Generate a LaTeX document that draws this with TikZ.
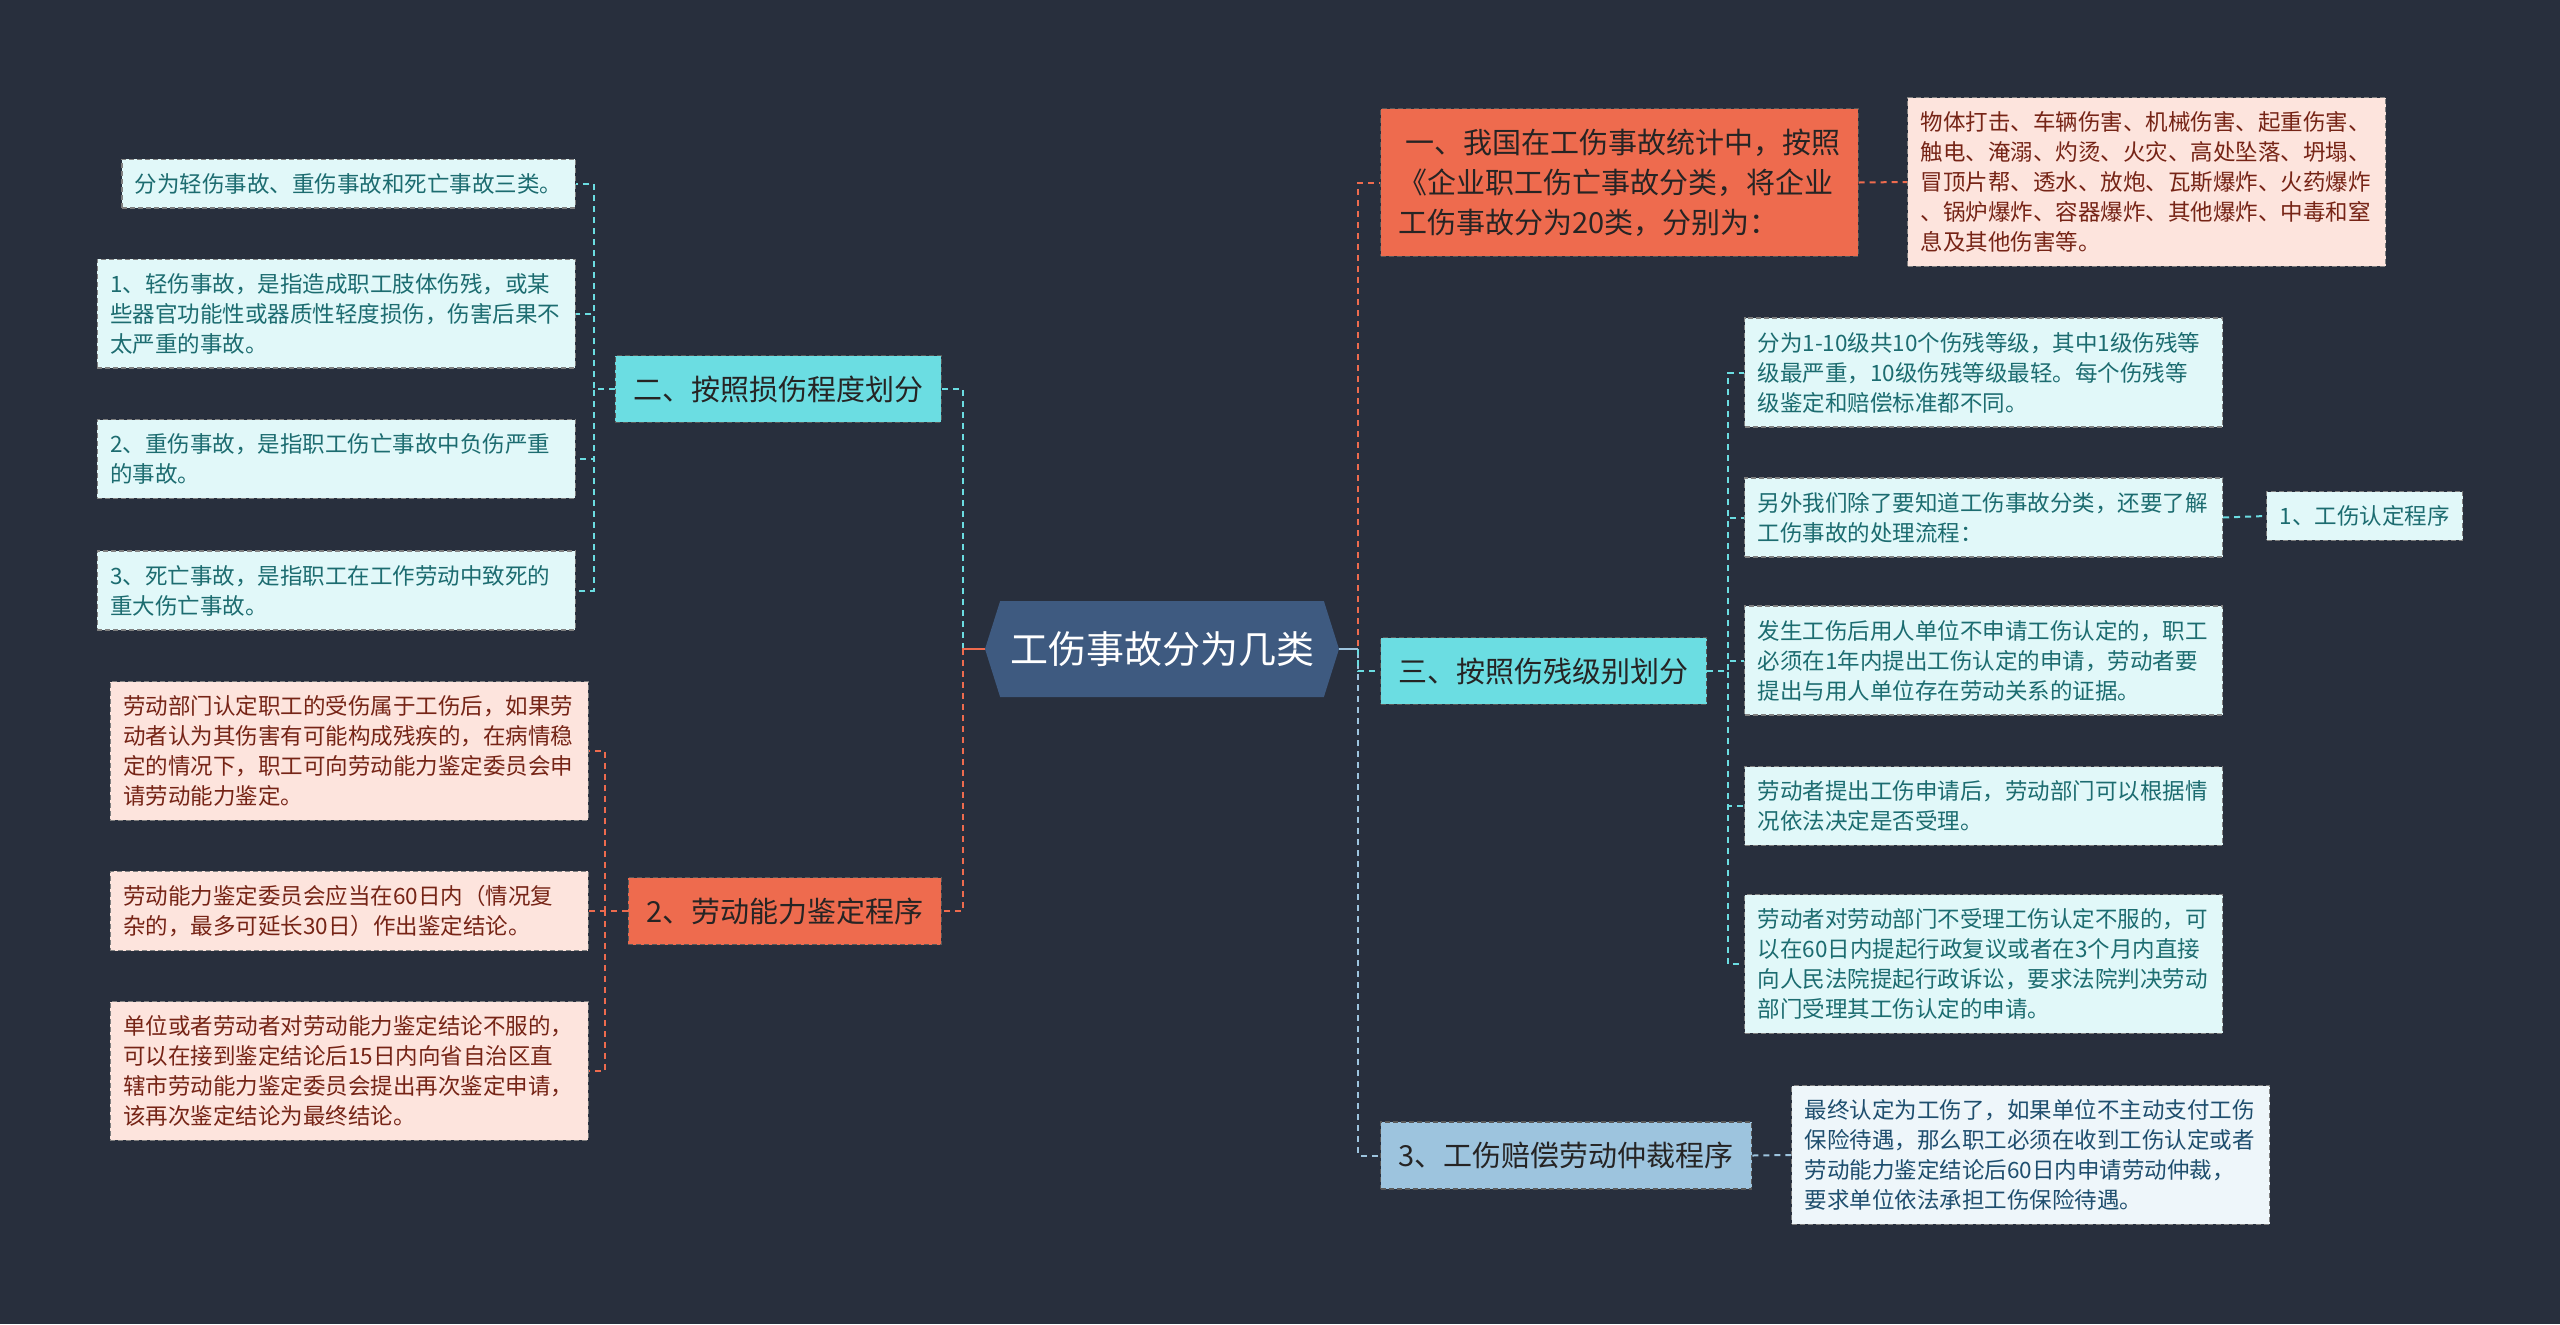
\documentclass[tikz,border=0pt]{standalone}
\usepackage{fontspec}
\setmainfont{Noto Sans CJK SC}
\usetikzlibrary{shapes.symbols}
\definecolor{bgc}{RGB}{40,47,61}
\definecolor{rootc}{RGB}{62,90,128}
\definecolor{orangec}{RGB}{238,107,78}
\definecolor{orangelt}{RGB}{253,228,221}
\definecolor{orangetxt}{RGB}{118,36,22}
\definecolor{cyanc}{RGB}{107,221,226}
\definecolor{cyanlt}{RGB}{225,248,249}
\definecolor{cyantxt}{RGB}{28,108,112}
\definecolor{bluec}{RGB}{157,196,222}
\definecolor{bluelt}{RGB}{238,246,250}
\definecolor{bluetxt}{RGB}{30,78,110}
\definecolor{maintxt}{RGB}{38,36,36}
\begin{document}
\begin{tikzpicture}[x=0.5pt, y=-0.5pt,
  rootnode/.style={signal, signal to=west and east, signal pointer angle=145, fill=rootc, text=white,
    minimum width=177pt, minimum height=48pt, inner sep=0pt, font=\fontsize{19pt}{22pt}\selectfont},
  mainbox/.style={draw=black!65, dash pattern=on 2.5pt off 1.5pt, line width=0.6pt, inner xsep=9pt, inner ysep=10pt,
    align=left, text=maintxt, font=\fontsize{14.5pt}{20pt}\selectfont},
  leafbox/.style={draw=black!50, dash pattern=on 2.5pt off 1.5pt, line width=0.6pt, inner xsep=6.5pt, inner ysep=7pt,
    align=left, text width=226pt, font=\fontsize{11.25pt}{15pt}\selectfont},
  cyanleaf/.style={leafbox, fill=cyanlt, text=cyantxt},
  orangeleaf/.style={leafbox, fill=orangelt, text=orangetxt},
  blueleaf/.style={leafbox, fill=bluelt, text=bluetxt},
  conn/.style={dash pattern=on 3pt off 2.5pt, line width=1pt}]
  \fill[bgc] (0,0) rectangle (2560,1324);
  \useasboundingbox (0,0) rectangle (2560,1324);

  \node[rootnode] (root) at (1162,649) {工伤事故分为几类};

  \node[mainbox, fill=orangec, anchor=west] (m1) at (1380,182.5) {\ 一、我国在工伤事故统计中，按照\\《企业职工伤亡事故分类，将企业\\工伤事故分为20类，分别为：};
  \node[mainbox, fill=cyanc, anchor=east] (m2) at (942,389) {二、按照损伤程度划分};
  \node[mainbox, fill=cyanc, anchor=west] (m3) at (1380,671) {三、按照伤残级别划分};
  \node[mainbox, fill=orangec, anchor=east] (m4) at (942,911) {2、劳动能力鉴定程序};
  \node[mainbox, fill=bluec, anchor=west] (m5) at (1380,1155.5) {3、工伤赔偿劳动仲裁程序};

  \node[orangeleaf, anchor=west] (e1) at (1907,182) {物体打击、车辆伤害、机械伤害、起重伤害、\\触电、淹溺、灼烫、火灾、高处坠落、坍塌、\\冒顶片帮、透水、放炮、瓦斯爆炸、火药爆炸\\、锅炉爆炸、容器爆炸、其他爆炸、中毒和窒\\息及其他伤害等。};

  \node[cyanleaf, anchor=east, text width=213.75pt] (a1) at (576,183.5) {分为轻伤事故、重伤事故和死亡事故三类。};
  \node[cyanleaf, anchor=east] (a2) at (576,313.5) {1、轻伤事故，是指造成职工肢体伤残，或某\\些器官功能性或器质性轻度损伤，伤害后果不\\太严重的事故。};
  \node[cyanleaf, anchor=east] (a3) at (576,459) {2、重伤事故，是指职工伤亡事故中负伤严重\\的事故。};
  \node[cyanleaf, anchor=east] (a4) at (576,590.5) {3、死亡事故，是指职工在工作劳动中致死的\\重大伤亡事故。};

  \node[cyanleaf, anchor=west] (l1) at (1744,372.5) {分为1-10级共10个伤残等级，其中1级伤残等\\级最严重，10级伤残等级最轻。每个伤残等\\级鉴定和赔偿标准都不同。};
  \node[cyanleaf, anchor=west] (l2) at (1744,517.5) {另外我们除了要知道工伤事故分类，还要了解\\工伤事故的处理流程：};
  \node[cyanleaf, anchor=west, text width=] (l2c) at (2266,516) {1、工伤认定程序};
  \node[cyanleaf, anchor=west] (l3) at (1744,660.5) {发生工伤后用人单位不申请工伤认定的，职工\\必须在1年内提出工伤认定的申请，劳动者要\\提出与用人单位存在劳动关系的证据。};
  \node[cyanleaf, anchor=west] (l4) at (1744,806) {劳动者提出工伤申请后，劳动部门可以根据情\\况依法决定是否受理。};
  \node[cyanleaf, anchor=west] (l5) at (1744,964) {劳动者对劳动部门不受理工伤认定不服的，可\\以在60日内提起行政复议或者在3个月内直接\\向人民法院提起行政诉讼，要求法院判决劳动\\部门受理其工伤认定的申请。};

  \node[orangeleaf, anchor=east] (b1) at (589,751) {劳动部门认定职工的受伤属于工伤后，如果劳\\动者认为其伤害有可能构成残疾的，在病情稳\\定的情况下，职工可向劳动能力鉴定委员会申\\请劳动能力鉴定。};
  \node[orangeleaf, anchor=east] (b2) at (589,911) {劳动能力鉴定委员会应当在60日内（情况复\\杂的，最多可延长30日）作出鉴定结论。};
  \node[orangeleaf, anchor=east] (b3) at (589,1071) {单位或者劳动者对劳动能力鉴定结论不服的，\\可以在接到鉴定结论后15日内向省自治区直\\辖市劳动能力鉴定委员会提出再次鉴定申请，\\该再次鉴定结论为最终结论。};

  \node[blueleaf, anchor=west] (f1) at (1791,1155) {最终认定为工伤了，如果单位不主动支付工伤\\保险待遇，那么职工必须在收到工伤认定或者\\劳动能力鉴定结论后60日内申请劳动仲裁，\\要求单位依法承担工伤保险待遇。};

  \draw[conn, cyanc] (root.west) -- ++(-22,0) |- (m2.east);
  \draw[conn, orangec] (root.west) -- ++(-22,0) |- (m4.east);
  \draw[conn, orangec] (root.east) -- ++(19,0) |- (m1.west);
  \draw[conn, bluec] (root.east) -- ++(19,0) |- (m5.west);
  \draw[conn, cyanc] (root.east) ++(19,0) |- (m3.west);
  \draw[line width=1pt, orangec] (root.west) -- ++(-22,0);
  \draw[line width=1pt, bluec] (root.east) -- ++(19,0);

  \foreach \leaf in {a1,a2,a3,a4}
    \draw[conn, cyanc] (m2.west) -- ++(-21,0) |- (\leaf.east);
  \foreach \leaf in {b1,b2,b3}
    \draw[conn, orangec] (m4.west) -- ++(-23,0) |- (\leaf.east);
  \foreach \leaf in {l1,l2,l3,l4,l5}
    \draw[conn, cyanc] (m3.east) -- ++(21,0) |- (\leaf.west);
  \draw[conn, orangec] (m1.east) -- (e1.west);
  \draw[conn, bluec] (m5.east) -- (f1.west);
  \draw[conn, cyanc] (l2.east) -- (l2c.west);
\end{tikzpicture}
\end{document}
